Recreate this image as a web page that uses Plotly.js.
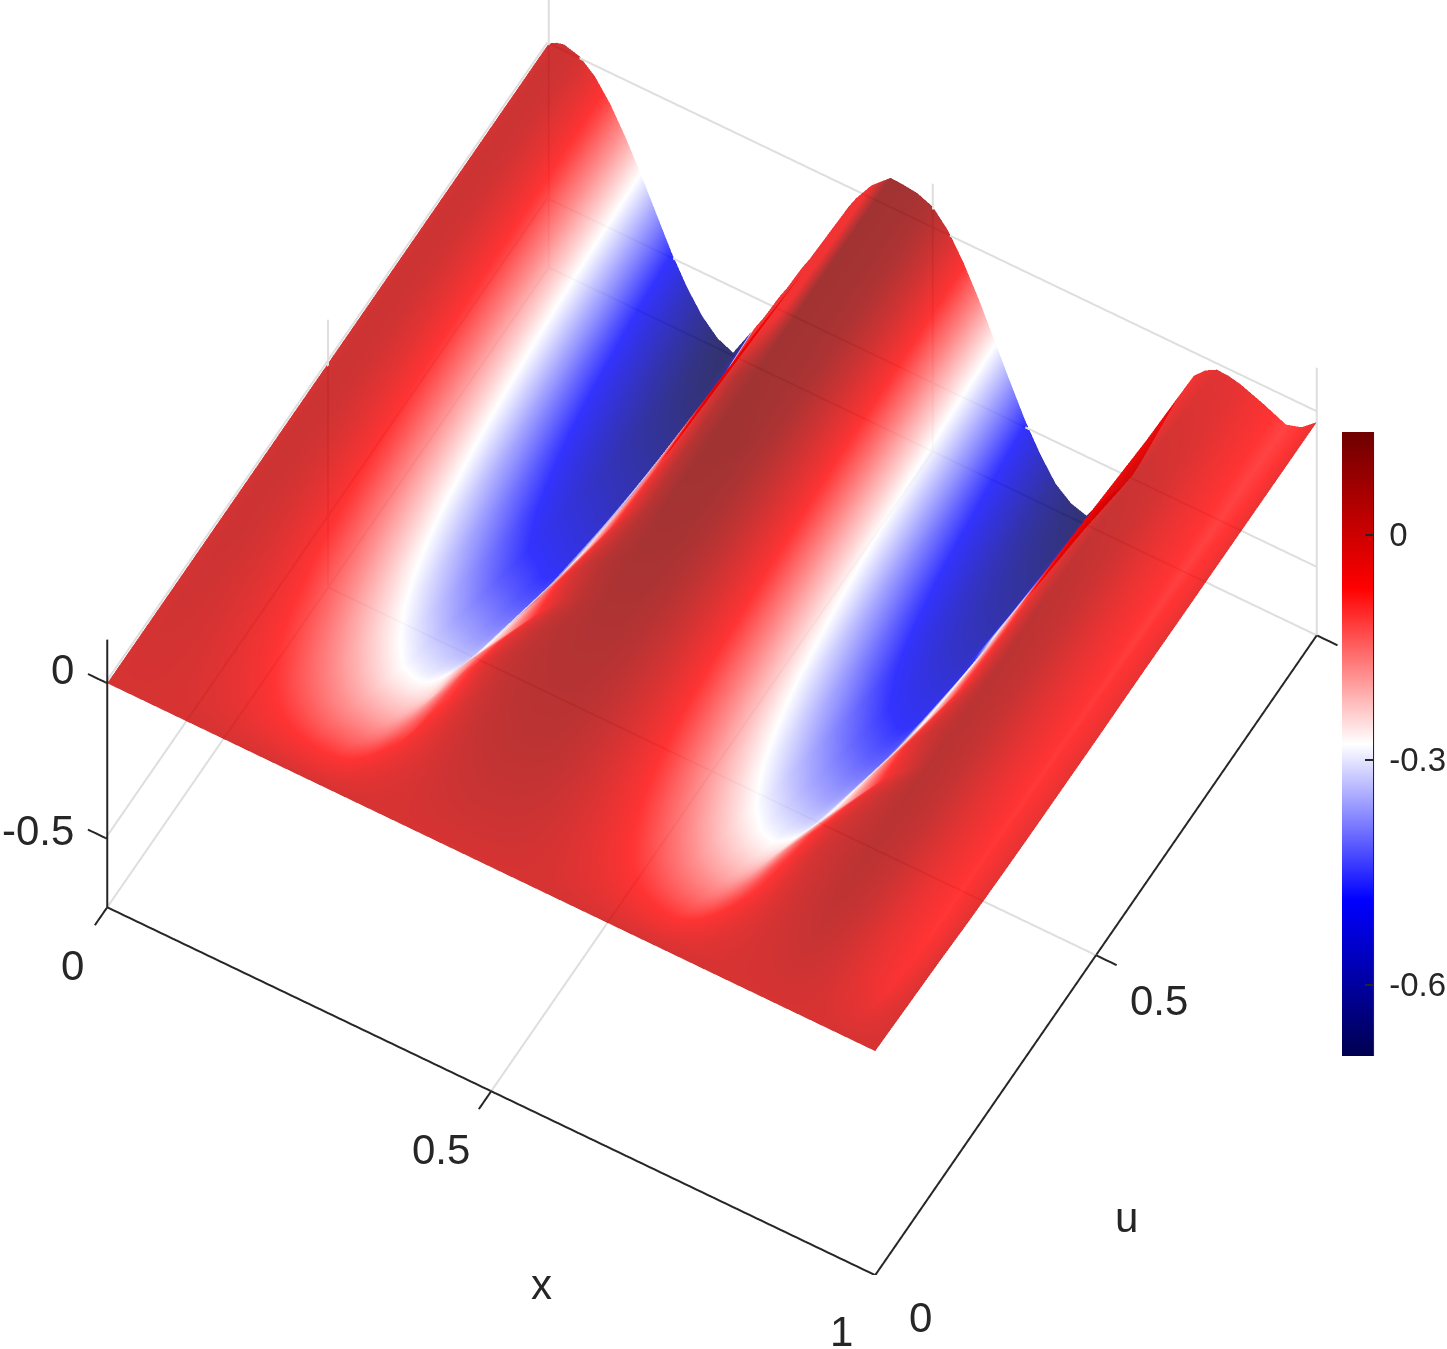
<!DOCTYPE html>
<html>
<head>
<meta charset="utf-8">
<script src="https://cdn.plot.ly/plotly-3.0.1.min.js"></script>
<style>body { margin: 0; background: #fff; }</style>
</head>
<body>
<div id="chart" style="width:1447px;height:1349px"></div>
<script>
const xVals = [0,.01,.02,.04,.06,.08,.10,.12,.14,.16,.18,.20,.22,.24,.25,.26,.27,.28,.29,.30,.31,.32,.33,.34,.35,.36,.37,.38,.39,.40,.42,.445,.46,.48,.50,.52,.54,.56,.58,.60,.62,.64,.66,.68,.70,.71,.72,.73,.74,.75,.76,.77,.78,.79,.80,.81,.82,.84,.855,.87,.885,.90,.93,.96,.98,1];
const uVals = [0,.05,.1,.15,.2,.25,.3,.35,.4,.5,.6,.7,.8,.9,1];

// one row per u value
const z00 = [0,0,0,0,0,0,0,0,0,0,0,0,0,0,0,0,0,0,0,0,0,0,0,0,0,0,0,0,0,0,0,0,0,0,0,0,0,0,0,0,0,0,0,0,0,0,0,0,0,0,0,0,0,0,0,0,0,0,0,0,0,0,0,0,0,0];
const z05 = [0,.003,.005,.004,.001,-.005,-.012,-.019,-.027,-.036,-.043,-.048,-.052,-.054,-.054,-.053,-.051,-.047,-.042,-.036,-.03,-.024,-.018,-.013,-.008,-.004,0,.004,.008,.011,.015,.018,.018,.018,.015,.01,.003,-.005,-.015,-.024,-.033,-.041,-.047,-.051,-.052,-.05,-.046,-.041,-.036,-.03,-.024,-.018,-.013,-.008,-.004,0,.004,.009,.013,.016,.012,.006,-.015,-.03,-.018,-.004];
const z10 = [0,.006,.01,.008,.001,-.009,-.022,-.038,-.054,-.07,-.084,-.095,-.103,-.105,-.106,-.105,-.1,-.093,-.083,-.071,-.06,-.049,-.038,-.028,-.018,-.009,0,.007,.014,.02,.028,.033,.033,.032,.028,.018,.004,-.012,-.03,-.049,-.066,-.081,-.093,-.1,-.103,-.099,-.092,-.082,-.071,-.06,-.049,-.038,-.028,-.018,-.009,0,.007,.018,.026,.032,.025,.012,-.03,-.06,-.035,-.008];
const z15 = [0,.008,.012,.009,0,-.016,-.035,-.057,-.08,-.104,-.124,-.14,-.151,-.155,-.156,-.155,-.15,-.14,-.125,-.11,-.095,-.071,-.055,-.04,-.025,-.01,.002,.013,.023,.03,.04,.045,.045,.044,.037,.023,.004,-.02,-.046,-.073,-.098,-.12,-.137,-.147,-.151,-.146,-.136,-.122,-.107,-.09,-.074,-.058,-.042,-.027,-.012,0,.01,.025,.035,.042,.034,.02,-.035,-.07,-.045,-.012];
const z20 = [0,.009,.015,.011,-.002,-.021,-.046,-.075,-.105,-.136,-.162,-.183,-.197,-.203,-.204,-.204,-.197,-.182,-.163,-.14,-.115,-.09,-.073,-.05,-.028,-.01,.006,.02,.03,.038,.047,.052,.052,.051,.042,.025,0,-.03,-.064,-.098,-.13,-.158,-.18,-.193,-.198,-.192,-.18,-.162,-.14,-.115,-.092,-.072,-.05,-.03,-.012,.003,.014,.03,.04,.048,.039,.025,-.035,-.078,-.05,-.018];
const z25 = [0,.011,.018,.013,-.002,-.026,-.057,-.092,-.129,-.167,-.199,-.225,-.245,-.25,-.25,-.247,-.24,-.225,-.195,-.165,-.135,-.102,-.078,-.05,-.025,-.005,.012,.026,.037,.045,.054,.059,.059,.057,.047,.026,-.004,-.041,-.081,-.122,-.161,-.195,-.222,-.237,-.243,-.238,-.225,-.2,-.172,-.145,-.118,-.09,-.066,-.044,-.022,-.005,.01,.03,.041,.05,.041,.027,-.035,-.078,-.05,-.022];
const z30 = [0,.012,.018,.012,-.006,-.034,-.07,-.11,-.154,-.198,-.236,-.265,-.288,-.295,-.295,-.287,-.272,-.245,-.217,-.189,-.161,-.133,-.105,-.077,-.05,-.028,-.008,.01,.027,.04,.058,.065,.065,.063,.051,.026,-.009,-.051,-.098,-.146,-.191,-.23,-.261,-.279,-.286,-.28,-.27,-.245,-.217,-.189,-.161,-.133,-.105,-.077,-.05,-.028,-.008,.022,.04,.052,.044,.03,-.03,-.078,-.052,-.025];
const z35 = [0,.014,.02,.013,-.007,-.039,-.08,-.126,-.176,-.226,-.269,-.303,-.326,-.334,-.337,-.337,-.33,-.293,-.265,-.237,-.209,-.181,-.153,-.125,-.097,-.069,-.043,-.02,.002,.02,.05,.073,.073,.071,.057,.029,-.011,-.059,-.113,-.167,-.219,-.263,-.299,-.319,-.327,-.327,-.32,-.293,-.265,-.237,-.209,-.181,-.153,-.125,-.097,-.069,-.043,-.005,.025,.051,.044,.03,-.03,-.078,-.052,-.027];
const z40 = [0,.014,.02,.012,-.01,-.046,-.091,-.143,-.199,-.255,-.302,-.34,-.366,-.374,-.378,-.378,-.368,-.329,-.295,-.262,-.229,-.196,-.163,-.13,-.097,-.064,-.034,-.008,.015,.033,.062,.08,.08,.078,.062,.031,-.014,-.068,-.128,-.188,-.246,-.295,-.336,-.358,-.367,-.367,-.358,-.329,-.295,-.262,-.229,-.196,-.163,-.13,-.097,-.064,-.034,.012,.033,.05,.043,.03,-.03,-.08,-.055,-.028];
const z50 = [0,.014,.02,.011,-.016,-.058,-.112,-.174,-.24,-.306,-.363,-.408,-.439,-.447,-.453,-.453,-.447,-.41,-.367,-.332,-.297,-.262,-.227,-.192,-.157,-.122,-.087,-.053,-.023,.003,.05,.09,.09,.087,.069,.032,-.021,-.085,-.156,-.227,-.296,-.354,-.402,-.428,-.439,-.439,-.434,-.405,-.367,-.332,-.297,-.262,-.227,-.192,-.157,-.122,-.087,-.025,.015,.048,.041,.028,-.03,-.08,-.056,-.03];
const z60 = [0,.014,.02,.01,-.021,-.069,-.131,-.201,-.277,-.353,-.417,-.469,-.504,-.512,-.52,-.52,-.505,-.455,-.415,-.376,-.337,-.298,-.26,-.22,-.181,-.142,-.103,-.064,-.03,0,.055,.095,.095,.092,.071,.029,-.031,-.103,-.184,-.264,-.342,-.408,-.462,-.492,-.504,-.504,-.492,-.452,-.415,-.376,-.337,-.298,-.26,-.22,-.181,-.142,-.103,-.03,.01,.045,.038,.025,-.033,-.082,-.058,-.03];
const z70 = [0,.014,.02,.009,-.026,-.079,-.148,-.226,-.309,-.393,-.465,-.522,-.561,-.57,-.579,-.577,-.548,-.503,-.459,-.415,-.371,-.327,-.283,-.239,-.195,-.151,-.107,-.063,-.025,.005,.055,.094,.092,.088,.072,.025,-.041,-.12,-.209,-.298,-.384,-.456,-.516,-.549,-.562,-.558,-.535,-.5,-.459,-.415,-.371,-.327,-.283,-.239,-.195,-.151,-.107,-.03,.005,.035,.028,.015,-.04,-.085,-.062,-.032];
const z80 = [0,.014,.02,.008,-.029,-.087,-.162,-.247,-.338,-.429,-.507,-.568,-.611,-.625,-.63,-.625,-.587,-.541,-.495,-.449,-.403,-.357,-.311,-.265,-.219,-.173,-.127,-.081,-.04,-.01,.05,.094,.092,.086,.07,.022,-.049,-.135,-.231,-.327,-.419,-.497,-.561,-.597,-.611,-.6,-.57,-.53,-.49,-.447,-.402,-.357,-.31,-.265,-.219,-.173,-.127,-.04,-.008,.02,.015,.005,-.045,-.087,-.068,-.033];
const z90 = [0,.014,.02,.007,-.033,-.095,-.174,-.265,-.362,-.459,-.542,-.608,-.653,-.674,-.674,-.648,-.603,-.558,-.513,-.468,-.423,-.378,-.333,-.288,-.243,-.198,-.153,-.108,-.063,-.025,.04,.094,.092,.086,.068,.017,-.058,-.149,-.251,-.352,-.45,-.533,-.601,-.639,-.654,-.63,-.6,-.565,-.525,-.483,-.438,-.393,-.348,-.29,-.243,-.198,-.153,-.063,-.025,0,-.004,-.012,-.052,-.089,-.072,-.034];
const z100 = [0,.014,.02,.006,-.035,-.1,-.184,-.279,-.382,-.484,-.571,-.641,-.688,-.71,-.67,-.63,-.59,-.55,-.505,-.46,-.42,-.375,-.33,-.29,-.245,-.2,-.155,-.11,-.065,-.025,.04,.094,.092,.086,.066,.013,-.066,-.161,-.267,-.374,-.477,-.564,-.635,-.674,-.69,-.655,-.62,-.59,-.56,-.53,-.49,-.44,-.385,-.33,-.275,-.22,-.165,-.075,-.04,-.02,-.022,-.03,-.058,-.09,-.075,-.035];
const zRows = [z00,z05,z10,z15,z20,z25,z30,z35,z40,z50,z60,z70,z80,z90,z100];

const axisTicks = [0, 0.5, 1];
const zTicks = [-0.5, 0];
const zMin = -0.72;
const zMax = 0.14;
const barTicks = [0, -0.3, -0.6];
const barLabels = ['\u00a00', '\u00a0-0.3', '\u00a0-0.6'];
const colours = [[0,'rgb(0,0,80)'],[0.25,'rgb(0,0,255)'],[0.5,'rgb(255,255,255)'],[0.75,'rgb(255,0,0)'],[1,'rgb(110,0,0)']];

const ink = '#262626';
const gridInk = 'rgb(222,222,222)';
const labelFont = { family: 'Liberation Sans', size: 42, color: ink };

// the steep walls near u = 1 show as a red strip in the reference, the front layer hides the blue
const foldColour = -0.05;
function inFold(x, u) {
    return u >= 0.8 && ((x >= 0.27 && x <= 0.42) || (x >= 0.72 && x <= 0.84));
}
const faceColours = zRows.map(function (row, i) {
    return row.map(function (v, j) {
        return inFold(xVals[j], uVals[i]) ? foldColour : v;
    });
});

const surf = {
    type: 'surface',
    x: xVals,
    y: uVals,
    z: zRows,
    surfacecolor: faceColours,
    colorscale: colours,
    cmin: -0.695,
    cmax: 0.137,
    opacity: 0.8,
    hoverinfo: 'skip',
    lighting: { ambient: 1, diffuse: 0, specular: 0, roughness: 1, fresnel: 0 },
    colorbar: {
        thickness: 31,
        thicknessmode: 'pixels',
        len: 624,
        lenmode: 'pixels',
        x: 0.9274,
        xanchor: 'left',
        xpad: 0,
        y: 0.4485,
        yanchor: 'middle',
        ypad: 0,
        outlinewidth: 0,
        tickmode: 'array',
        tickvals: barTicks,
        ticktext: barLabels,
        ticks: 'inside',
        ticklen: 8,
        tickwidth: 2,
        tickcolor: ink,
        tickfont: { family: 'Liberation Sans', size: 33, color: ink }
    }
};

// the 3d axes only draw hairlines here, so the frame is built as line traces
function frameLines(segments, colour) {
    const xs = [], ys = [], zs = [];
    segments.forEach(function (s) {
        xs.push(s[0], s[3], null);
        ys.push(s[1], s[4], null);
        zs.push(s[2], s[5], null);
    });
    return { type: 'scatter3d', mode: 'lines', x: xs, y: ys, z: zs, hoverinfo: 'skip', showlegend: false,
        line: { color: colour, width: 4 } };
}
const gridSegs = [];
axisTicks.forEach(function (t) {
    if (t < 1) gridSegs.push([t, 0, zMin, t, 1, zMin]);
    gridSegs.push([t, 1, zMin, t, 1, zMax]);
    if (t > 0) {
        gridSegs.push([0, t, zMin, 1, t, zMin]);
        gridSegs.push([0, t, zMin, 0, t, zMax]);
    }
});
zTicks.forEach(function (t) {
    gridSegs.push([-0.002, 0, t, -0.002, 1, t]);
    gridSegs.push([0, 1, t, 1, 1, t]);
});
const axisSegs = [
    [0, 0, zMin, 1, 0, zMin],
    [1, 0, zMin, 1, 1, zMin],
    [0, 0, zMin, 0, 0, zMax]
];
axisTicks.forEach(function (t) {
    axisSegs.push([t, 0, zMin, t, -0.028, zMin]);
    axisSegs.push([1, t, zMin, 1.027, t, zMin]);
});
zTicks.forEach(function (t) {
    axisSegs.push([0, 0, t, -0.025, 0, t]);
});

function hiddenAxis(lo, hi) {
    return { visible: false, range: [lo, hi], showspikes: false };
}

// tick labels as annotations so they sit where the reference has them
function tickNote(x, y, z, text, dx, dy) {
    return { x: x, y: y, z: z, text: text, showarrow: false, xanchor: 'center', yanchor: 'middle',
        xshift: dx, yshift: -dy, font: labelFont };
}
const notes = [
    tickNote(0, 0, 0, '0', -45, -14),
    tickNote(0, 0, -0.5, '-0.5', -69, -8),
    tickNote(0, 0, zMin, '0', -35, 58),
    tickNote(0.5, 0, zMin, '0.5', -50, 58),
    tickNote(1, 0, zMin, '1', -34, 57),
    tickNote(0.5, 0, zMin, 'x', 50, 193),
    tickNote(1, 0, zMin, '0', 45, 43),
    tickNote(1, 0.5, zMin, '0.5', 63, 45),
    tickNote(1, 0.5, zMin, 'u', 31, 262)
];

const layout = {
    width: 1447,
    height: 1349,
    margin: { l: 0, r: 0, t: 0, b: 0, autoexpand: false },
    paper_bgcolor: '#fff',
    showlegend: false,
    scene: {
        domain: { x: [0, 0.984], y: [0.055, 1] },
        aspectmode: 'manual',
        aspectratio: { x: 1.473, y: 1.473, z: 0.7943 },
        camera: {
            eye: { x: 1.38, y: -2.4, z: 4.17 },
            up: { x: 0, y: 0, z: 1 },
            center: { x: 0, y: 0, z: 0 },
            projection: { type: 'orthographic' }
        },
        xaxis: hiddenAxis(-0.03, 1.03),
        yaxis: hiddenAxis(-0.03, 1.03),
        // a little past the frame: lines lying right on the range limit get clipped in patches
        zaxis: hiddenAxis(zMin - 0.02, zMax + 0.02),
        annotations: notes
    },
    shapes: [{ type: 'line', xref: 'paper', yref: 'paper', x0: 0.9489, x1: 0.9489, y0: 0.2172, y1: 0.6798,
        line: { color: ink, width: 2 } }]
};

Plotly.newPlot('chart', [frameLines(gridSegs, gridInk), frameLines(axisSegs, ink), surf], layout, { displayModeBar: false });
</script>
</body>
</html>
